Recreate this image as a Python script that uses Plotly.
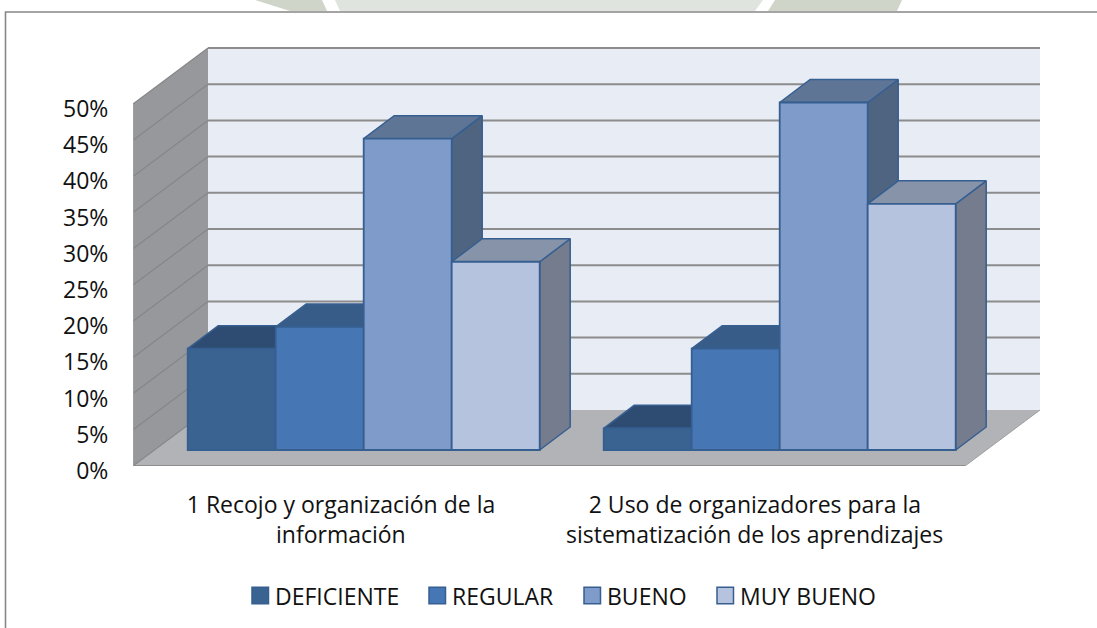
import plotly.graph_objects as go

# ---- data ----
SERIES = ["DEFICIENTE", "REGULAR", "BUENO", "MUY BUENO"]
CAT_FIRST_LINE = ["1 Recojo y organización de la", "2 Uso de organizadores para la"]
CAT_SECOND_LINE = ["información", "sistematización de los aprendizajes"]
DEFICIENTE = [14, 3]
REGULAR = [17, 14]
BUENO = [43, 48]
MUY_BUENO = [26, 34]
VALUES = [DEFICIENTE, REGULAR, BUENO, MUY_BUENO]
Y_TICKS = [0, 5, 10, 15, 20, 25, 30, 35, 40, 45, 50]

# ---- styles ----
FRONT = ["#3A6391", "#4776B4", "#7E9BC9", "#B6C3DE"]
TOP = ["#2E4C72", "#385C88", "#5E7596", "#8793A8"]
SIDE = ["#26405F", "#2F4E74", "#4F6480", "#747C8E"]
EDGE = "#365F91"
FONT = "'Open Sans', sans-serif"
FS = 23
INK = "#111111"

# ---- projection: px <-> data ----
X0, Y0 = 133.0, 466.0      # front-left corner of the floor, 0 %
UX, UY = 416.0, 7.24       # px per category, px per percent
PL_R, PL_T = 1042.0, 40.0  # right / top of plotting area
DEPTH_X, DEPTH_Y = 75 / UX, 56 / UY
BAR_DX, BAR_DY = 30.5 / UX, 23 / UY
BASE = 16 / UY
BAR_W = 88 / UX
START = 54.7 / UX


def xp(px):
    return (px - X0) / (PL_R - X0)


def yp(py):
    return (Y0 - py) / (Y0 - PL_T)


fig = go.Figure()
shapes = []


def poly(pts, fill, line=None, w=0):
    path = "M" + " L".join(f"{a},{b}" for a, b in pts) + " Z"
    shapes.append(dict(type="path", path=path, xref="x", yref="y", layer="below",
                       fillcolor=fill, line=dict(color=line or fill, width=w)))


def seg(a, b, c, d, color="#8C8C8C", w=2):
    shapes.append(dict(type="line", x0=a, y0=b, x1=c, y1=d, xref="x", yref="y", layer="below",
                       line=dict(color=color, width=w)))


top_val = Y_TICKS[-1]
right = 2.0
# back wall, side wall, floor
poly([(DEPTH_X, DEPTH_Y), (right + DEPTH_X, DEPTH_Y), (right + DEPTH_X, DEPTH_Y + top_val), (DEPTH_X, DEPTH_Y + top_val)], "#E8ECF5")
poly([(0, 0), (DEPTH_X, DEPTH_Y), (DEPTH_X, DEPTH_Y + top_val), (0, top_val)], "#96989B")
poly([(0, 0), (right, 0), (right + DEPTH_X, DEPTH_Y), (DEPTH_X, DEPTH_Y)], "#B1B3B6")
for t in Y_TICKS:
    if t > 0:
        seg(DEPTH_X, DEPTH_Y + t, right + DEPTH_X, DEPTH_Y + t)
    seg(0, t, DEPTH_X, DEPTH_Y + t, "#868686", 1.2)
seg(0, 0, right, 0, "#8E8E8E", 2)
seg(right, 0, right + DEPTH_X, DEPTH_Y, "#A0A0A0", 1)
seg(0, 0, 0, top_val, "#A6A6A6", 1)

# bars, painted left to right
for i, (name, vals) in enumerate(zip(SERIES, VALUES)):
    lefts = [c + START + i * BAR_W for c in range(len(vals))]
    for left, v in zip(lefts, vals):
        r = left + BAR_W
        side = [(r, BASE), (r + BAR_DX, BASE + BAR_DY), (r + BAR_DX, BASE + BAR_DY + v), (r, BASE + v)]
        top = [(left, BASE + v), (left + BAR_DX, BASE + BAR_DY + v), (r + BAR_DX, BASE + BAR_DY + v), (r, BASE + v)]
        for pts, col in ((side, SIDE[i]), (top, TOP[i])):
            fig.add_trace(go.Scatter(
                x=[p[0] for p in pts] + [pts[0][0]], y=[p[1] for p in pts] + [pts[0][1]],
                mode="lines", fill="toself", fillcolor=col,
                line=dict(color=EDGE, width=1.5), hoverinfo="skip", showlegend=False,
                cliponaxis=False, zorder=2 * i))
    fig.add_trace(go.Bar(
        name=name, x=[l + BAR_W / 2 for l in lefts], y=vals, base=BASE, width=BAR_W,
        marker=dict(color=FRONT[i], line=dict(color=EDGE, width=1.8)),
        showlegend=False, zorder=2 * i + 1, cliponaxis=False))

# legend row
LEGEND_PX = [252, 429, 584, 717]
LEGEND_Y = 595.5
annotations = []
legend_shapes = []
for i, name in enumerate(SERIES):
    legend_shapes.append(dict(type="rect", xref="paper", yref="paper", layer="above",
                              x0=xp(LEGEND_PX[i]), x1=xp(LEGEND_PX[i] + 16.5),
                              y0=yp(LEGEND_Y + 8.2), y1=yp(LEGEND_Y - 8.2),
                              fillcolor=FRONT[i], line=dict(color=EDGE, width=1.5)))
    annotations.append(dict(text=name, x=xp(LEGEND_PX[i] + 21), y=yp(596), xref="paper", yref="paper",
                            showarrow=False, xanchor="left", yanchor="middle",
                            font=dict(family=FONT, size=FS, color=INK)))
for c, line in enumerate(CAT_SECOND_LINE):
    annotations.append(dict(text=line, x=c + 0.5 - 0.005 * c, y=yp(534), xref="x", yref="paper",
                            showarrow=False, xanchor="center", yanchor="middle",
                            font=dict(family=FONT, size=FS, color=INK)))

# chart frame and the faint band above it


def band(pts, fill):
    path = "M" + " L".join(f"{xp(a)},{yp(b)}" for a, b in pts) + " Z"
    return dict(type="path", xref="paper", yref="paper", layer="below", fillcolor=fill,
                line=dict(width=0), path=path)


bands = [
    band([(255, 0), (322, 0), (327, 11), (290, 11)], "#CFD5C9"),
    band([(335, 0), (763, 0), (755, 11), (340, 11)], "#DFE4DE"),
    band([(775, 0), (902, 0), (897, 11), (768, 11)], "#CFD5C9"),
]
frame = dict(type="rect", xref="paper", yref="paper", x0=xp(5.5), x1=xp(1110), y0=yp(640), y1=yp(12),
             line=dict(color="#878787", width=1.6), fillcolor="rgba(0,0,0,0)", layer="below")

fig.update_layout(
    width=1097, height=628, autosize=False,
    margin=dict(l=X0, r=1097 - PL_R, t=PL_T, b=628 - Y0, pad=0),
    paper_bgcolor="white", plot_bgcolor="rgba(0,0,0,0)",
    barmode="overlay", showlegend=False,
    font=dict(family=FONT, size=FS, color=INK),
    shapes=bands + [frame] + shapes + legend_shapes,
    annotations=annotations,
    xaxis=dict(range=[0, (PL_R - X0) / UX], tickmode="array", tickvals=[0.5, 1.495], ticktext=CAT_FIRST_LINE,
               showgrid=False, zeroline=False, showline=False, ticks="outside", ticklen=18,
               tickcolor="rgba(0,0,0,0)", tickangle=0, automargin=False),
    yaxis=dict(range=[0, (Y0 - PL_T) / UY], tickmode="array", tickvals=Y_TICKS,
               ticktext=[f"{t}%" for t in Y_TICKS], showgrid=False, zeroline=False, showline=False,
               ticks="outside", ticklen=19, tickcolor="rgba(0,0,0,0)", automargin=False,
               ticklabelshift=5),
)
fig.write_html("out.html", config=dict(displayModeBar=False),
               post_script="document.body.style.margin='0';document.body.style.overflow='hidden';")
